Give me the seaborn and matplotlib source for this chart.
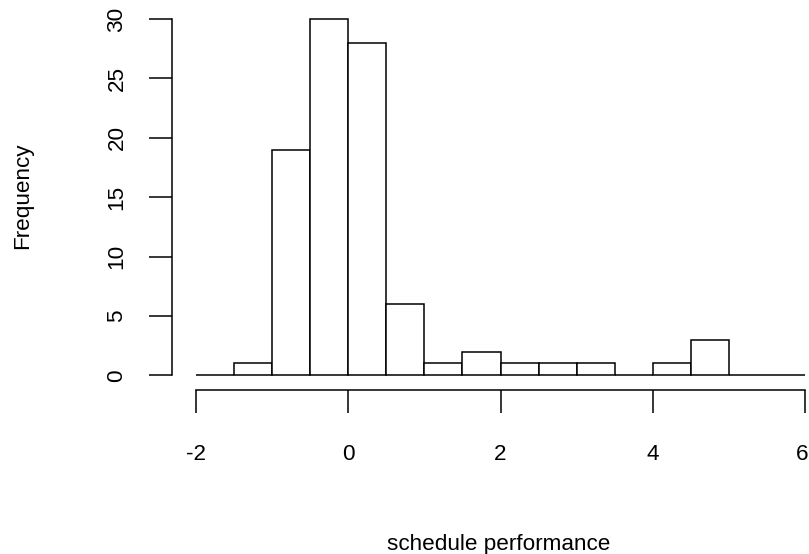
import numpy as np
import pandas as pd
import matplotlib
matplotlib.use("Agg")
import matplotlib.pyplot as plt
import matplotlib.transforms as mtransforms
import seaborn as sns

# Data
bin_edges = [-2.0, -1.5, -1.0, -0.5, 0.0, 0.5, 1.0, 1.5, 2.0, 2.5, 3.0,
             3.5, 4.0, 4.5, 5.0, 5.5, 6.0]
counts = [0, 1, 19, 30, 28, 6, 1, 2, 1, 1, 1, 0, 1, 3, 0, 0]
x_ticks = [-2, 0, 2, 4, 6]
y_ticks = [0, 5, 10, 15, 20, 25, 30]
x_label = "schedule performance"
y_label = "Frequency"

sns.set_style("white")
plt.rcParams["font.family"] = ["Liberation Sans", "DejaVu Sans"]
plt.rcParams["axes.unicode_minus"] = False

W, H = 809, 554
DPI = 100
fig = plt.figure(figsize=(W / DPI, H / DPI), dpi=DPI)

px_l, px_r = 196, 805
px_top, px_bot = 19, 375.3
ax = fig.add_axes([px_l / W, 1 - px_bot / H, (px_r - px_l) / W, (px_bot - px_top) / H])

edges = np.array(bin_edges)
centers = (edges[:-1] + edges[1:]) / 2
df = pd.DataFrame({"value": centers, "count": counts})

sns.histplot(data=df, x="value", weights="count", bins=bin_edges, stat="count",
             fill=True, color="white", edgecolor="black", linewidth=1.1,
             alpha=1.0, ax=ax)
for p in ax.patches:
    p.set_clip_on(False)
    p.set_facecolor("white")
    p.set_edgecolor("black")

ax.set_xlim(-2, 6)
ax.set_ylim(0, 30)
ax.set_xticks(x_ticks)
ax.set_yticks(y_ticks)
ax.set_xticklabels([str(t) for t in x_ticks])
ax.set_yticklabels([str(t) for t in y_ticks])
ax.set_xlabel("")
ax.set_ylabel("")

pt = 72 / DPI
for s in ["top", "right"]:
    ax.spines[s].set_visible(False)
ax.spines["left"].set_position(("outward", 24 * pt))
ax.spines["left"].set_bounds(0, 30)
ax.spines["bottom"].set_position(("outward", 14.7 * pt))
ax.spines["bottom"].set_bounds(-2, 6)
for s in ["left", "bottom"]:
    ax.spines[s].set_linewidth(1.1)
    ax.spines[s].set_color("black")

fs = 16.2
ax.tick_params(axis="both", which="major", direction="out", length=23.5 * pt,
               width=1.1, colors="black", labelsize=fs,
               bottom=True, left=True, top=False, right=False)
ax.tick_params(axis="x", pad=30 * pt)
ax.tick_params(axis="y", pad=21 * pt, labelrotation=90)
for lab in ax.get_yticklabels():
    lab.set_va("center")
    lab.set_ha("right")

# the last x tick label sits at the figure edge; nudge it left a little
last = ax.get_xticklabels()[-1]
last.set_transform(last.get_transform() +
                   mtransforms.ScaledTranslation(-3 / DPI, 0, fig.dpi_scale_trans))

ax.set_facecolor("white")
ax.grid(False)

fig.text(499 / W, 1 - 550 / H, x_label, ha="center", va="baseline",
         fontsize=fs, color="black")
fig.text(23 / W, 1 - 196 / H, y_label, ha="center", va="center",
         rotation=90, fontsize=fs, color="black")

fig.savefig("out.png", dpi=DPI, facecolor="white")
